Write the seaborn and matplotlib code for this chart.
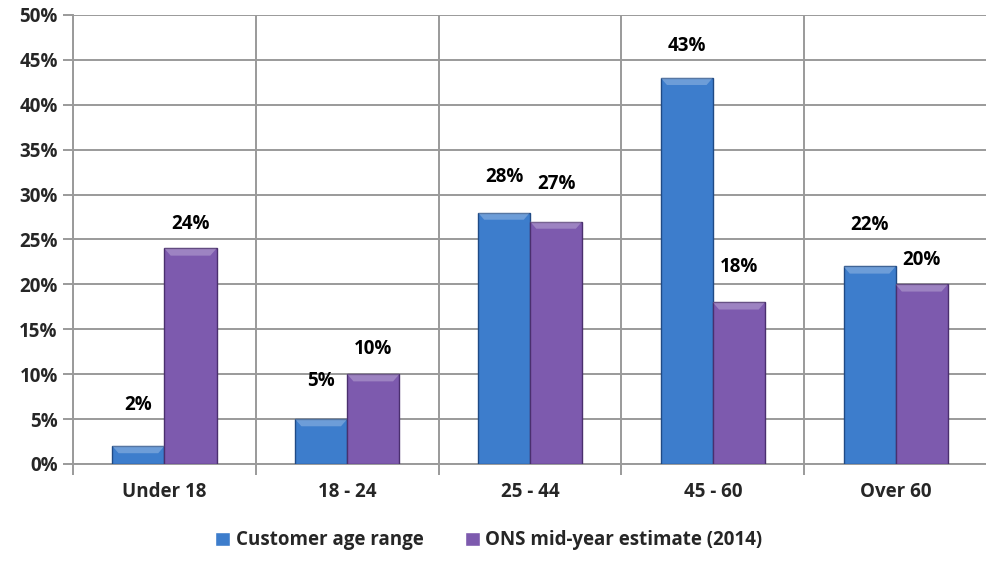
import matplotlib

matplotlib.use("Agg")
import matplotlib.pyplot as plt
import numpy as np
import pandas as pd
import seaborn as sns

# data
age_groups = ["Under 18", "18 - 24", "25 - 44", "45 - 60", "Over 60"]
customer_pct = [2, 5, 28, 43, 22]
ons_pct = [24, 10, 27, 18, 20]
series_names = ["Customer age range", "ONS mid-year estimate (2014)"]

# label lift above each bar top (pixels) – the original labels sit unevenly
customer_lift = [41, 38, 36, 32, 41]
ons_lift = [24, 25, 38, 35, 24]

BLUE, PURPLE = "#3D7DCC", "#7D5AAE"
BLUE_EDGE, PURPLE_EDGE = "#1F4A85", "#4A2F6E"
GRID = "#9A9A9A"
WEIGHT = "bold"
FS = 13.5

sns.set_theme(style="white")
plt.rcParams["font.family"] = ["Open Sans", "DejaVu Sans"]

long = pd.DataFrame({
    "group": age_groups * 2,
    "pct": customer_pct + ons_pct,
    "series": [series_names[0]] * len(age_groups) + [series_names[1]] * len(age_groups),
})

fig = plt.figure(figsize=(9.87, 5.71), dpi=100)
ax = fig.add_axes([0.074, 0.1874, 0.926, 0.7864])

sns.barplot(data=long, x="group", y="pct", hue="series", order=age_groups,
            hue_order=series_names, palette=[BLUE, PURPLE], saturation=1,
            width=0.57, gap=0, ax=ax, legend=True, zorder=3)

edges = [BLUE_EDGE, PURPLE_EDGE]
for cont, ec in zip(ax.containers, edges):
    for p in cont:
        p.set_edgecolor(ec)
        p.set_linewidth(1.0)
        # light bevel band along the top of each bar
        x0, w, h = p.get_x(), p.get_width(), p.get_height()
        band = min(0.8, h)
        ax.add_patch(plt.Polygon([(x0, h), (x0 + w, h), (x0 + w * 0.88, h - band),
                                  (x0 + w * 0.12, h - band)], closed=True,
                                 facecolor="white", alpha=0.25, lw=0, zorder=4))

for cont, vals, lifts in zip(ax.containers, [customer_pct, ons_pct],
                             [customer_lift, ons_lift]):
    for p, v, lift in zip(cont, vals, lifts):
        ax.annotate(f"{v}%", (p.get_x() + p.get_width() / 2, p.get_height()),
                    xytext=(0, lift), textcoords="offset pixels",
                    ha="center", va="center", fontsize=FS, fontweight=WEIGHT,
                    color="black", zorder=5)

ax.set_ylim(0, 50)
ax.set_xlim(-0.5, len(age_groups) - 0.5)
ax.set_yticks(np.arange(0, 51, 5))
ax.set_yticklabels([f"{t}%" for t in range(0, 51, 5)])
ax.set_xticks(range(len(age_groups)))
ax.set_xticks(np.arange(-0.5, len(age_groups), 1), minor=True)

ax.grid(axis="y", color=GRID, lw=1.4, zorder=0)
ax.grid(axis="x", which="minor", color=GRID, lw=1.4, zorder=0)
ax.grid(axis="x", which="major", visible=False)

for side in ["top", "right"]:
    ax.spines[side].set_visible(False)
for side in ["left", "bottom"]:
    ax.spines[side].set_color(GRID)
    ax.spines[side].set_linewidth(1.4)

ax.tick_params(axis="y", length=7, width=1.4, color=GRID, direction="out",
               labelsize=FS, pad=4, left=True)
ax.tick_params(axis="x", which="major", length=0, labelsize=FS, pad=13)
ax.tick_params(axis="x", which="minor", length=8, width=1.4, color=GRID,
               direction="out", bottom=True)
for lab in ax.get_xticklabels() + ax.get_yticklabels():
    lab.set_fontweight(WEIGHT)

ax.set_xlabel("")
ax.set_ylabel("")

handles, labels = ax.get_legend_handles_labels()
ax.legend(handles, labels, loc="center", bbox_to_anchor=(0.455, -0.17),
          ncol=2, frameon=False, handlelength=0.8, handleheight=0.8,
          handletextpad=0.3, columnspacing=2.2,
          prop={"weight": WEIGHT, "size": 13.5})

fig.savefig("out.png", dpi=100)
plt.close(fig)
